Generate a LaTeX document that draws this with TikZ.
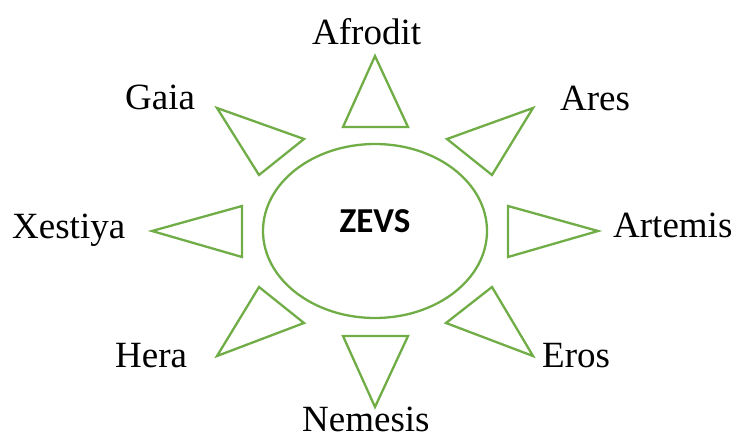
\documentclass[tikz,border=0pt]{standalone}
\usepackage{fontspec}
\setmainfont{Liberation Serif}
\newfontfamily\zevsfont{Carlito}
\usetikzlibrary{shapes.geometric}
\definecolor{sungreen}{HTML}{70AD47}
\tikzset{
  ray/.style={draw=sungreen, line width=2.3pt, line join=miter},
  god/.style={anchor=base west, inner sep=0pt, font=\fontsize{37}{40}\selectfont},
  core/.style={draw=sungreen, line width=2.3pt, ellipse, minimum width=224pt, minimum height=174pt, inner sep=0pt},
}
\begin{document}
\begin{tikzpicture}[x=1pt,y=-1pt]
\useasboundingbox (0,0) rectangle (733,433);
% centre
\node[core] (sun) at (375,231) {};
\node[anchor=base, inner sep=0pt, font=\zevsfont\bfseries\fontsize{35}{38}\selectfont] (zevs) at (375,232) {ZEVS};
% rays
\draw[ray] (375,56) -- (343,127) -- (408,127) -- cycle;        % Afrodit
\draw[ray] (217,108) -- (304,139) -- (259,175) -- cycle;       % Gaia
\draw[ray] (533,108) -- (447,139) -- (492,175) -- cycle;       % Ares
\draw[ray] (152,231) -- (242,206) -- (242,257) -- cycle;       % Xestiya
\draw[ray] (598,231) -- (508,206) -- (508,257) -- cycle;       % Artemis
\draw[ray] (259,287) -- (304,323) -- (217,356) -- cycle;       % Hera
\draw[ray] (492,287) -- (446,323) -- (533,356) -- cycle;       % Eros
\draw[ray] (375,407) -- (343,336) -- (408,336) -- cycle;       % Nemesis
% labels
\node[god] (afrodit) at (312,45) {Afrodit};
\node[god] (gaia) at (125,110) {Gaia};
\node[god] (ares) at (560,111) {Ares};
\node[god] (xestiya) at (12,238) {Xestiya};
\node[god] (artemis) at (613,237) {Artemis};
\node[god] (hera) at (115,367) {Hera};
\node[god] (eros) at (542,367) {Eros};
\node[god] (nemesis) at (302,431) {Nemesis};
\end{tikzpicture}
\end{document}
